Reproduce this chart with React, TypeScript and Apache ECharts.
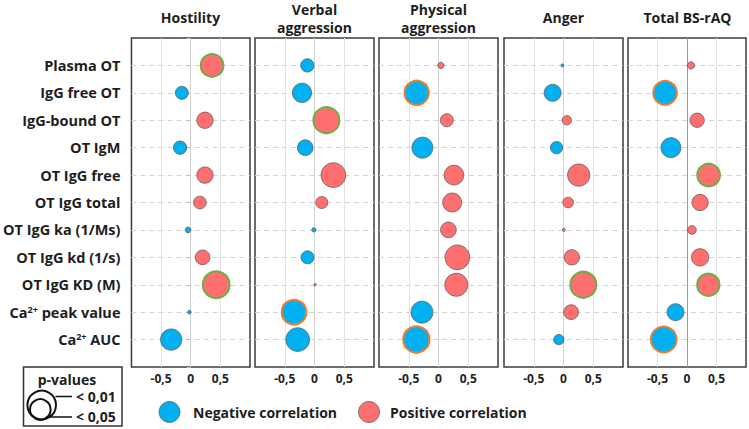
import React, { useEffect, useRef } from "react";
import * as echarts from "echarts";

// ---------- data ----------
const categories = [
  "Plasma OT",
  "IgG free OT",
  "IgG-bound OT",
  "OT IgM",
  "OT IgG free",
  "OT IgG total",
  "OT IgG ka (1/Ms)",
  "OT IgG kd (1/s)",
  "OT IgG KD (M)",
  "Ca2+ peak value",
  "Ca2+ AUC",
];

const scales = ["Hostility", "Verbal\naggression", "Physical\naggression", "Anger", "Total BS-rAQ"];

// correlation coefficients (x position)
const hostilityR = [0.36, -0.15, 0.24, -0.18, 0.24, 0.155, -0.045, 0.2, 0.43, -0.022, -0.33];
const verbalR = [-0.12, -0.21, 0.2, -0.156, 0.317, 0.122, -0.01, -0.117, 0.01, -0.344, -0.283];
const physicalR = [0.04, -0.367, 0.14, -0.27, 0.26, 0.23, 0.167, 0.317, 0.3, -0.278, -0.372];
const angerR = [-0.017, -0.183, 0.056, -0.117, 0.256, 0.078, 0.005, 0.14, 0.333, 0.128, -0.078];
const totalR = [0.067, -0.372, 0.172, -0.272, 0.367, 0.222, 0.083, 0.222, 0.361, -0.194, -0.394];

// bubble magnitude (size encoding)
const hostilityM = [0.345, 0.183, 0.238, 0.188, 0.238, 0.178, 0.062, 0.212, 0.412, 0.028, 0.322];
const verbalM = [0.188, 0.288, 0.4, 0.228, 0.378, 0.167, 0.038, 0.183, 0.01, 0.378, 0.362];
const physicalM = [0.072, 0.372, 0.183, 0.317, 0.295, 0.283, 0.228, 0.378, 0.35, 0.333, 0.405];
const angerM = [0.017, 0.25, 0.122, 0.172, 0.338, 0.145, 0.017, 0.222, 0.4, 0.212, 0.138];
const totalM = [0.088, 0.362, 0.205, 0.3, 0.345, 0.238, 0.112, 0.255, 0.338, 0.25, 0.395];

// significance: 0 = n.s., 1 = p < 0.05, 2 = p < 0.01
const hostilityP = [2, 0, 0, 0, 0, 0, 0, 0, 2, 0, 0];
const verbalP = [0, 0, 2, 0, 0, 0, 0, 0, 0, 1, 0];
const physicalP = [0, 1, 0, 0, 0, 0, 0, 0, 0, 0, 1];
const angerP = [0, 0, 0, 0, 0, 0, 0, 0, 2, 0, 0];
const totalP = [0, 1, 0, 0, 2, 0, 0, 0, 2, 0, 1];

const xTicks = [-0.5, 0, 0.5];

const panelR = [hostilityR, verbalR, physicalR, angerR, totalR];
const panelM = [hostilityM, verbalM, physicalM, angerM, totalM];
const panelP = [hostilityP, verbalP, physicalP, angerP, totalP];

// ---------- style ----------
const FONT = "'Open Sans', 'Noto Sans', sans-serif";
const BLUE = "#00b0f0";
const RED = "#ff6f6f";
const GREEN = "#70ad47";
const ORANGE = "#ed7d31";
const GRAY = "#5f5f5f";

const GRID_LEFTS = [131, 255, 379, 504, 628];
const GRID_W = 119;
const GRID_TOP = 38;
const GRID_H = 329;

export default function App() {
  const ref = useRef<HTMLDivElement>(null);

  useEffect(() => {
    if (!ref.current) return;
    const chart = echarts.init(ref.current, undefined, { renderer: "svg" });

    const grids = GRID_LEFTS.map((left) => ({
      left,
      top: GRID_TOP,
      width: GRID_W,
      height: GRID_H,
      show: true,
      borderColor: "#3c3c3c",
      borderWidth: 1.5,
      backgroundColor: "transparent",
    }));

    const xAxes = GRID_LEFTS.map((_, i) => ({
      type: "value",
      gridIndex: i,
      min: -1,
      max: 1,
      interval: 0.5,
      axisLine: { show: false },
      axisTick: { show: false },
      axisLabel: {
        margin: 5,
        fontFamily: FONT,
        fontWeight: "bold",
        fontSize: 12,
        color: "#222",
        formatter: (v: number) => {
          const t = xTicks.find((k) => Math.abs(k - v) < 1e-9);
          if (t === undefined) return "";
          return String(t).replace(".", ",");
        },
      },
      splitLine: {
        show: true,
        lineStyle: {
          color: ["transparent", "#e2e2e2", i === 4 ? "#9a9a9a" : "#d2d2d2", "#e2e2e2", "transparent"],
          width: 1,
        },
      },
    }));

    const rowLineColors = [
      "transparent",
      ...categories.map(() => "#d4d4d4"),
      "transparent",
    ];

    const yAxes = GRID_LEFTS.map((_, i) => ({
      type: "value",
      gridIndex: i,
      min: 0,
      max: categories.length + 1,
      interval: 1,
      inverse: true,
      axisLine: { show: false },
      axisTick: {
        show: i === 0,
        length: 4,
        lineStyle: { color: "#bbbbbb" },
      },
      axisLabel: {
        show: i === 0,
        margin: 11,
        fontFamily: FONT,
        fontWeight: "bold",
        fontSize: 14.5,
        color: "#1e1e1e",
        formatter: (v: number) => {
          const name = categories[Math.round(v) - 1];
          if (!name || Math.abs(v - Math.round(v)) > 1e-9) return "";
          return name.replace("Ca2+", "Ca{sup|2+}");
        },
        rich: {
          sup: {
            fontFamily: FONT,
            fontWeight: "bold",
            fontSize: 9,
            color: "#1e1e1e",
            verticalAlign: "top",
            lineHeight: 10,
          },
        },
      },
      splitLine: {
        show: true,
        lineStyle: { color: rowLineColors, type: [5, 4], width: 1 },
      },
    }));

    const series = panelR.map((rs, i) => ({
      type: "scatter",
      xAxisIndex: i,
      yAxisIndex: i,
      symbol: "circle",
      symbolSize: (val: number[]) => 2 + 60 * val[2],
      data: rs.map((r, j) => {
        const sig = panelP[i][j];
        return {
          value: [r, j + 1, panelM[i][j], sig],
          itemStyle: {
            color: r < 0 ? BLUE : RED,
            borderColor: sig === 2 ? GREEN : sig === 1 ? ORANGE : GRAY,
            borderWidth: sig ? 2 : 0.8,
            opacity: 1,
          },
        };
      }),
    }));

    const centers = GRID_LEFTS.map((l) => l + GRID_W / 2);
    const titleGraphics = scales.map((s, i) => {
      const twoLine = s.includes("\n");
      return {
        type: "text",
        x: centers[i],
        y: twoLine ? 0 : 17,
        style: {
          text: s,
          fontFamily: FONT,
          fontWeight: "bold",
          fontSize: 14,
          lineHeight: 18.5,
          fill: "#1e1e1e",
          textAlign: "center",
          textVerticalAlign: twoLine ? "top" : "middle",
        },
      };
    });

    const legendText = (text: string, x: number, y: number, align = "left", size = 14) => ({
      type: "text",
      x,
      y,
      style: {
        text,
        fontFamily: FONT,
        fontWeight: "bold",
        fontSize: size,
        fill: "#1e1e1e",
        textAlign: align,
        textVerticalAlign: "middle",
      },
    });

    const graphics: any[] = [
      ...titleGraphics,
      // p-values box
      {
        type: "rect",
        shape: { x: 23.5, y: 367, width: 98.5, height: 59 },
        style: { fill: "none", stroke: "#333", lineWidth: 1.5 },
      },
      legendText("p-values", 67, 379, "center", 14),
      {
        type: "circle",
        shape: { cx: 41.7, cy: 405, r: 14.3 },
        style: { fill: "none", stroke: "#111", lineWidth: 2 },
      },
      {
        type: "circle",
        shape: { cx: 40.3, cy: 409.5, r: 10.3 },
        style: { fill: "none", stroke: "#111", lineWidth: 2 },
      },
      {
        type: "line",
        shape: { x1: 55.5, y1: 396.5, x2: 72, y2: 396.5 },
        style: { stroke: "#111", lineWidth: 1.5 },
      },
      {
        type: "line",
        shape: { x1: 46, y1: 417, x2: 72, y2: 417 },
        style: { stroke: "#111", lineWidth: 1.5 },
      },
      legendText("< 0,01", 76, 396, "left", 14),
      legendText("< 0,05", 76, 416.5, "left", 14),
      // correlation legend
      {
        type: "circle",
        shape: { cx: 169.5, cy: 412, r: 10.5 },
        style: { fill: BLUE, stroke: GRAY, lineWidth: 0.8 },
      },
      legendText("Negative correlation", 193, 412, "left", 14),
      {
        type: "circle",
        shape: { cx: 369, cy: 412, r: 10.5 },
        style: { fill: RED, stroke: GRAY, lineWidth: 0.8 },
      },
      legendText("Positive correlation", 390, 412, "left", 14),
    ];

    chart.setOption({
      animation: false,
      backgroundColor: "#ffffff",
      grid: grids,
      xAxis: xAxes,
      yAxis: yAxes,
      series,
      graphic: graphics,
    } as any);

    return () => chart.dispose();
  }, []);

  return (
    <div
      ref={ref}
      style={{ position: "fixed", left: 0, top: 0, width: 749, height: 429, background: "#fff" }}
    />
  );
}
